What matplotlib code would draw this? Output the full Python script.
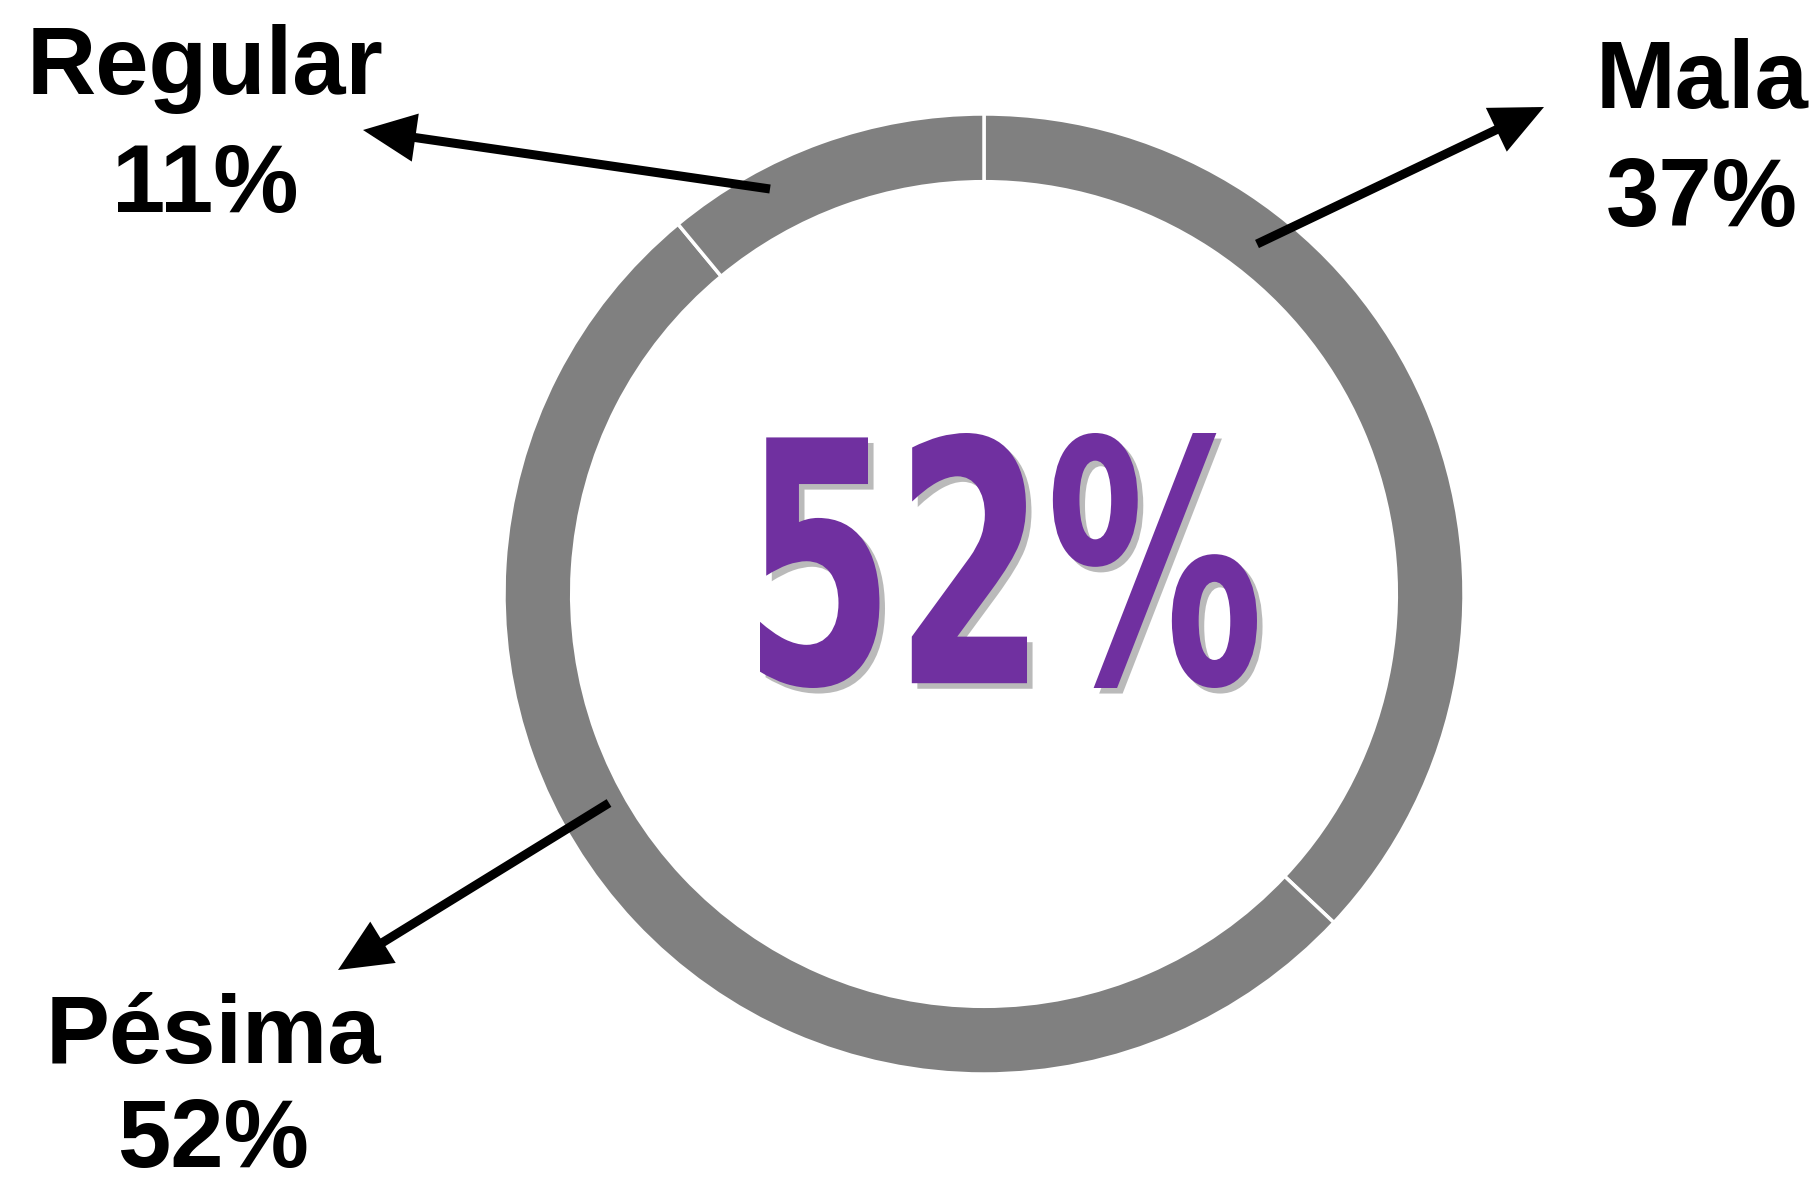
import matplotlib
matplotlib.use("Agg")
import matplotlib.pyplot as plt
from matplotlib.textpath import TextPath
from matplotlib.patches import PathPatch, FancyArrowPatch
from matplotlib.font_manager import FontProperties
from matplotlib.transforms import Affine2D
import matplotlib.patheffects as pe

# ---- data ----
categories = ["Mala", "Pésima", "Regular"]
values = [37, 52, 11]
value_labels = ["37%", "52%", "11%"]
center_label = "52%"

W, H = 1820, 1190
fig = plt.figure(figsize=(W / 100, H / 100), dpi=100)
ax = fig.add_axes([0, 0, 1, 1])

cx, cy, R = 984, 596, 480
ax.pie(values, radius=R, center=(cx, cy), startangle=90, counterclock=False,
       colors=["#808080"] * len(values),
       wedgeprops=dict(width=R * 0.141, edgecolor="white", linewidth=2.5))
ax.set_xlim(0, W)
ax.set_ylim(0, H)
ax.set_aspect("equal")
ax.axis("off")

# ---- center big number, fitted into its box ----
fp = FontProperties(family="DejaVu Sans", weight="bold", stretch="condensed")
tp = TextPath((0, 0), center_label, size=100, prop=fp)
bb = tp.get_extents()
x0, x1, y0, y1 = 760, 1257, 502, 757
tr = (Affine2D().translate(-bb.x0, -bb.y0)
      .scale((x1 - x0) / bb.width, (y1 - y0) / bb.height)
      .translate(x0, y0))
path = tr.transform_path(tp)
patch = PathPatch(path, facecolor="#7030A0", edgecolor="none", zorder=5,
                  path_effects=[pe.SimplePatchShadow(offset=(4, -4), shadow_rgbFace="#777777", alpha=0.5),
                                pe.Normal()])
ax.add_patch(patch)

# ---- labels ----
label_pos = {"Regular": (205, 1121), "Mala": (1702, 1107), "Pésima": (213, 152)}
pct_dy = {"Regular": 118, "Mala": 118, "Pésima": 104}
for cat, pct in zip(categories, value_labels):
    x, y = label_pos[cat]
    ax.text(x, y, cat, ha="center", va="center", fontsize=69, fontweight="bold",
            family="Liberation Sans", color="black")
    ax.text(x, y - pct_dy[cat], pct, ha="center", va="center", fontsize=69, fontweight="bold",
            family="Liberation Sans", color="black")

# ---- arrows ----
arrows = {
    "Regular": ((770, 1190 - 189), (363, 1190 - 130)),
    "Mala": ((1257, 1190 - 244), (1544, 1190 - 107)),
    "Pésima": ((609, 1190 - 803), (338, 1190 - 970)),
}
for cat, (start, end) in arrows.items():
    a = FancyArrowPatch(start, end, arrowstyle="-|>,head_length=1.35,head_width=0.62",
                        mutation_scale=20, linewidth=6.5, color="black",
                        capstyle="butt", joinstyle="miter",
                        shrinkA=0, shrinkB=0, zorder=6)
    ax.add_patch(a)

fig.savefig("out.png", dpi=100, facecolor="white")
